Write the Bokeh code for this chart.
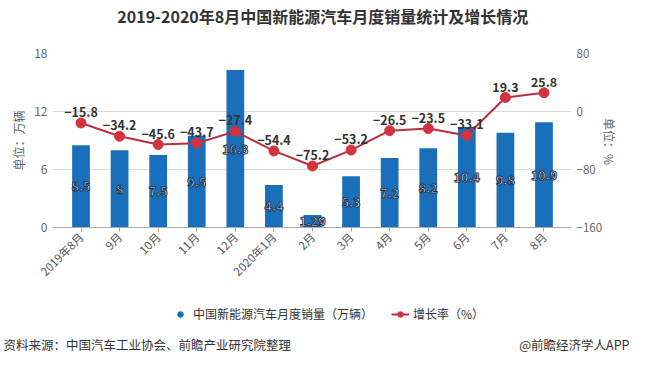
from bokeh.plotting import figure
from bokeh.models import (Range1d, LinearAxis, FixedTicker, ColumnDataSource, Legend,
                          LegendItem)
from bokeh.core.properties import value
from bokeh.embed import file_html
from bokeh.resources import INLINE
import math

title_text = "2019-2020年8月中国新能源汽车月度销量统计及增长情况"
left_title = "单位：万辆"
right_title = "单位：%"
source_text = "资料来源：中国汽车工业协会、前瞻产业研究院整理"
brand_text = "@前瞻经济学人APP"
months = ["2019年8月", "9月", "10月", "11月", "12月", "2020年1月", "2月", "3月",
          "4月", "5月", "6月", "7月", "8月"]
sales = [8.5, 8, 7.5, 9.5, 16.3, 4.4, 1.29, 5.3, 7.2, 8.2, 10.4, 9.8, 10.9]
growth = [-15.8, -34.2, -45.6, -43.7, -27.4, -54.4, -75.2, -53.2, -26.5, -23.5, -33.1, 19.3, 25.8]
left_ticks = [0, 6, 12, 18]
right_ticks = [-160, -80, 0, 80]

FONT = "Noto Sans CJK SC"
BLUE = "#1a6fbb"
RED_LINE = "#b8303e"
RED_DOT = "#d3323f"
W = 629

xs = list(range(len(months)))
src = ColumnDataSource(dict(
    x=xs, sales=sales, half=[v / 2 for v in sales],
    slab=[f"{v:g}" for v in sales],
    growth=growth, glab=[f"{v:g}".replace("-", "\u2212") for v in growth],
))

x0, x1 = -0.739, 12.713
y1_lo, y1_hi = 0, 18
y2_lo, y2_hi = -160, 80
p = figure(width=W, height=292, output_backend="svg", toolbar_location=None,
           x_range=Range1d(x0, x1), y_range=Range1d(y1_lo, y1_hi),
           min_border_left=52, min_border_right=48, min_border_top=49,
           min_border_bottom=65, title=None)
p.outline_line_color = None
p.extra_y_ranges = {"g": Range1d(y2_lo, y2_hi)}

# grid
p.xgrid.visible = False
p.ygrid.ticker = FixedTicker(ticks=left_ticks)
p.ygrid.grid_line_color = "#dcdcdc"

# bottom axis
xa = p.xaxis[0]
xa.ticker = FixedTicker(ticks=xs)
xa.major_label_overrides = {i: m for i, m in enumerate(months)}
xa.major_label_orientation = math.pi / 4
xa.major_label_text_font = FONT
xa.major_label_text_font_size = "11.5px"
xa.major_label_text_color = "#555555"
xa.axis_line_color = "#aaaaaa"
xa.major_tick_line_color = "#aaaaaa"
xa.major_tick_out = 4
xa.major_tick_in = 0
xa.minor_tick_line_color = None
xa.minor_tick_out = 0
xa.major_label_standoff = 3


def bare(ax):
    ax.axis_line_color = None
    ax.major_tick_line_color = None
    ax.minor_tick_line_color = None
    ax.major_tick_out = 0
    ax.major_tick_in = 0
    ax.minor_tick_out = 0
    ax.minor_tick_in = 0


ya = p.yaxis[0]
ya.ticker = FixedTicker(ticks=left_ticks)
bare(ya)
ya.major_label_text_font = FONT
ya.major_label_text_font_size = "12px"
ya.major_label_text_color = "#666666"
ya.major_label_standoff = 5
ya.axis_label = left_title
ya.axis_label_text_font = FONT
ya.axis_label_text_font_size = "12px"
ya.axis_label_text_font_style = "normal"
ya.axis_label_text_color = "#666666"
ya.axis_label_standoff = 4

ra = LinearAxis(y_range_name="g", ticker=FixedTicker(ticks=right_ticks))
bare(ra)
ra.major_label_text_font = FONT
ra.major_label_text_font_size = "11.5px"
ra.major_label_text_color = "#666666"
ra.major_label_standoff = 5
p.add_layout(ra, "right")

# right axis title: a bare axis with one tick; the rotated label runs downward
# from its tick, so the tick sits half a label length above the middle
rt_pos = -9
rt = LinearAxis(y_range_name="g", ticker=FixedTicker(ticks=[rt_pos]),
                major_label_overrides={rt_pos: right_title})
bare(rt)
rt.major_label_orientation = -math.pi / 2
rt.major_label_text_font = FONT
rt.major_label_text_font_size = "12px"
rt.major_label_text_color = "#666666"
rt.major_label_standoff = 4
p.add_layout(rt, "right")

# chart title: a bare axis above the frame with one tick at the centre
tx = 6.267
ta = LinearAxis(ticker=FixedTicker(ticks=[tx]), major_label_overrides={tx: title_text})
bare(ta)
ta.major_label_standoff = 26
ta.major_label_text_font = FONT
ta.major_label_text_font_size = "16px"
ta.major_label_text_font_style = "bold"
ta.major_label_text_color = "#333333"
p.add_layout(ta, "above")

# bars
p.vbar(x="x", top="sales", width=0.46, source=src, fill_color=BLUE, line_color=None)

# line
p.line(x="x", y="growth", source=src, y_range_name="g", line_color=RED_LINE, line_width=2)
p.scatter(x="x", y="growth", source=src, y_range_name="g", size=10,
          fill_color=RED_DOT, line_color=RED_DOT)

# labels
p.text(x="x", y="half", text="slab", source=src, text_align="center", text_baseline="middle",
       text_color="white", text_font=value(FONT), text_font_size="12.5px",
       text_font_style="bold", text_outline_color="#1f3550")
p.text(x="x", y="growth", text="glab", source=src, y_range_name="g", text_align="center",
       text_baseline="bottom", y_offset=-6, text_color="#333333", text_font=value(FONT),
       text_font_size="12.5px", text_font_style="bold")

# footer figure: legend and source notes (separate root, full-width frame)
FH = 61
f = figure(width=W, height=FH, output_backend="svg", toolbar_location=None,
           x_range=Range1d(0, W), y_range=Range1d(0, FH),
           x_axis_location=None, y_axis_location=None,
           min_border=0, min_border_left=0, min_border_right=0,
           min_border_top=0, min_border_bottom=0, title=None)
f.grid.visible = False
f.outline_line_color = None
nan = float("nan")
k_dot = f.scatter(x=[nan], y=[nan], marker="circle", size=11, fill_color=BLUE, line_color=BLUE)
k_line = f.line(x=[nan, nan], y=[nan, nan], line_color=RED_LINE, line_width=2)
k_mark = f.scatter(x=[nan], y=[nan], size=8, fill_color=RED_DOT, line_color=RED_DOT)
legend = Legend(items=[
    LegendItem(label="中国新能源汽车月度销量（万辆）", renderers=[k_dot]),
    LegendItem(label="增长率（%）", renderers=[k_line, k_mark]),
], orientation="horizontal", location=(171, 31), border_line_color=None,
    background_fill_alpha=0,
    label_text_font=FONT, label_text_font_size="12px", label_text_color="#333333",
    glyph_width=18, glyph_height=14, spacing=18, margin=0, padding=2, label_standoff=4)
f.add_layout(legend, "center")
notes = ColumnDataSource(dict(x=[3, W], y=[9, 9], t=[source_text, brand_text],
                              a=["left", "right"]))
f.text(x="x", y="y", text="t", text_align="a", source=notes, text_baseline="middle",
       text_font=value(FONT), text_font_size="12.5px", text_color="#333333")

open("out.html", "w").write(file_html([p, f], INLINE))
